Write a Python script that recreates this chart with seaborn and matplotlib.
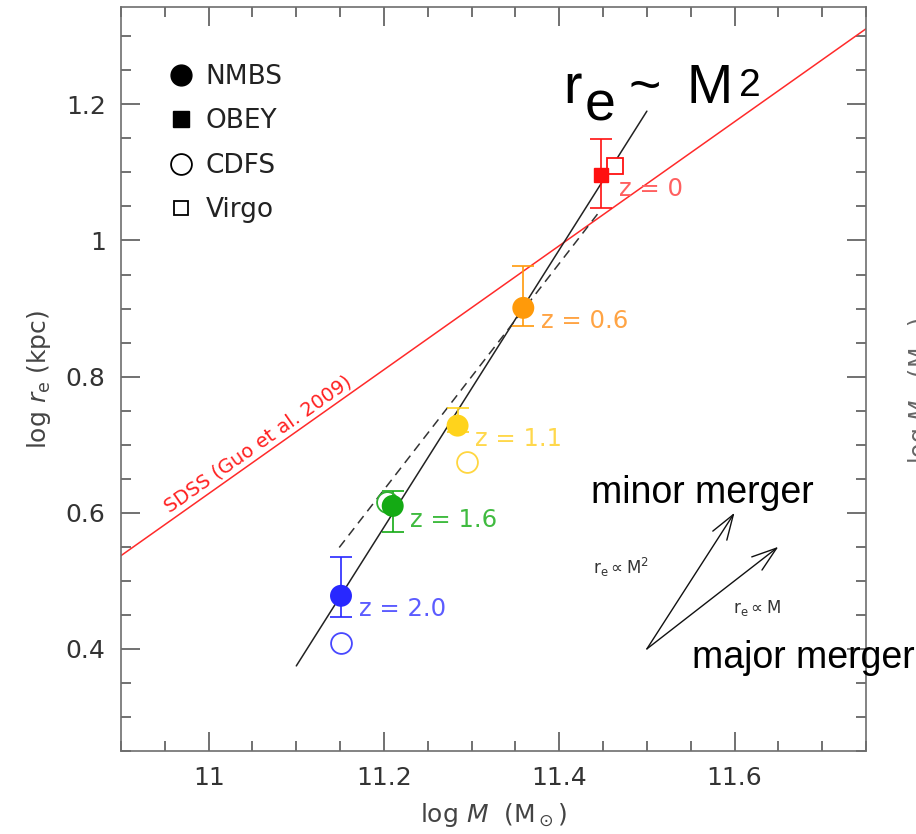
import matplotlib
matplotlib.use("Agg")
import matplotlib.pyplot as plt
from matplotlib.lines import Line2D
from matplotlib.ticker import MultipleLocator, FuncFormatter
import pandas as pd
import seaborn as sns

# ---- NMBS stacked massive galaxies (filled circles), one per redshift bin
z_labels = ["z = 2.0", "z = 1.6", "z = 1.1", "z = 0.6"]
nmbs_mass = [11.151, 11.210, 11.284, 11.359]
nmbs_re = [0.478, 0.610, 0.728, 0.901]
nmbs_re_hi = [0.535, 0.632, 0.754, 0.962]
nmbs_re_lo = [0.447, 0.572, 0.718, 0.875]
nmbs_colors = ["#2828ff", "#14aa14", "#ffd31c", "#ff9a0a"]
label_colors = ["#5c5cff", "#40bb40", "#ffd84c", "#ffa444"]

# ---- OBEY local point (filled square)
obey_label = "z = 0"
obey_mass = [11.448]
obey_re = [1.096]
obey_re_hi = [1.149]
obey_re_lo = [1.047]
obey_color = "#ff1010"
obey_label_color = "#ff6060"

# ---- CDFS (open circles) and Virgo (open square)
cdfs_mass = [11.151, 11.203, 11.295]
cdfs_re = [0.409, 0.616, 0.674]
cdfs_colors = ["#4848ff", "#30b030", "#ffd640"]
virgo_mass = [11.464]
virgo_re = [1.110]

# ---- Relations
m2_mass = [11.10, 11.50]          # r_e ~ M^2 track
m2_re = [0.375, 1.190]
fit_mass = [11.149, 11.445]       # dashed evolution fit
fit_re = [0.549, 1.041]
sdss_mass = [10.90, 11.75]        # SDSS local relation (Guo et al. 2009)
sdss_re = [0.537, 1.311]

# ---- Merger vectors
vec_origin = (11.50, 0.40)
minor_tip = (11.60, 0.60)
major_tip = (11.65, 0.55)

legend_labels = ["NMBS", "OBEY", "CDFS", "Virgo"]

sns.set_style("ticks")
plt.rcParams["font.family"] = ["DejaVu Sans"]
plt.rcParams["mathtext.fontset"] = "dejavusans"

fig = plt.figure(figsize=(9.16, 8.34), dpi=100)
ax = fig.add_axes([121 / 916, 83 / 834, 745 / 916, 744 / 834])

grey = "#4a4a4a"

# relations
sns.lineplot(x=sdss_mass, y=sdss_re, color="#ff2a2a", lw=1.1, ax=ax)
sns.lineplot(x=m2_mass, y=m2_re, color="#222222", lw=1.1, ax=ax)
sns.lineplot(x=fit_mass, y=fit_re, color="#333333", lw=1.1, ax=ax,
             linestyle=(0, (6, 4)))

# error bars
for x, y, lo, hi, c in zip(nmbs_mass, nmbs_re, nmbs_re_lo, nmbs_re_hi, nmbs_colors):
    ax.errorbar([x], [y], yerr=[[y - lo], [hi - y]], fmt="none", ecolor=c,
                elinewidth=1.2, capsize=8, capthick=1.2, zorder=3)
ax.errorbar(obey_mass, obey_re,
            yerr=[[obey_re[0] - obey_re_lo[0]], [obey_re_hi[0] - obey_re[0]]],
            fmt="none", ecolor=obey_color, elinewidth=1.2, capsize=8,
            capthick=1.2, zorder=3)

# open symbols
for x, y, c in zip(cdfs_mass, cdfs_re, cdfs_colors):
    ax.plot([x], [y], marker="o", ms=15, mfc="none", mec=c, mew=1.3, zorder=4)
ax.plot(virgo_mass, virgo_re, marker="s", ms=11, mfc="white", mec=obey_color,
        mew=1.3, ls="none", zorder=4)

# filled symbols
df = pd.DataFrame({"mass": nmbs_mass, "re": nmbs_re, "z": z_labels})
sns.scatterplot(data=df, x="mass", y="re", hue="z", palette=nmbs_colors,
                s=250, edgecolor="none", legend=False, ax=ax, zorder=5)
ax.plot(obey_mass, obey_re, marker="s", ms=10.5, color=obey_color,
        ls="none", zorder=5)

# redshift labels
for x, y, t, c in zip(nmbs_mass + obey_mass, nmbs_re + obey_re,
                      z_labels + [obey_label], label_colors + [obey_label_color]):
    ax.text(x + 0.02, y - 0.02, t, color=c, fontsize=17.5, ha="left",
            va="center")

ax.text(11.056, 0.700, "SDSS (Guo et al. 2009)", color="#ff2020",
        fontsize=14, rotation=35, ha="center", va="center")

# merger vectors
for tip in (minor_tip, major_tip):
    ax.annotate("", xy=tip, xytext=vec_origin,
                arrowprops=dict(arrowstyle="->,head_length=0.9,head_width=0.3",
                                color="#111111", lw=1.0, mutation_scale=20,
                                shrinkA=0, shrinkB=0))
ax.text(11.439, 0.519, r"$\mathregular{r_e \propto M^2}$", fontsize=12,
        color="#333333", ha="left", va="center")
ax.text(11.598, 0.460, r"$\mathregular{r_e \propto M}$", fontsize=12,
        color="#333333", ha="left", va="center")

arial = "Liberation Sans"
ax.text(11.436, 0.615, "minor merger", fontsize=27, family=arial,
        color="black", ha="left", va="baseline")
ax.text(11.551, 0.372, "major merger", fontsize=27, family=arial,
        color="black", ha="left", va="baseline")
big = dict(family=arial, color="black", ha="left", va="baseline")
ax.text(11.405, 1.2015, "r", fontsize=40, **big)
ax.text(11.429, 1.176, "e", fontsize=40, **big)
ax.text(11.479, 1.2015, "~", fontsize=40, **big)
ax.text(11.545, 1.2015, "M", fontsize=40, **big)
ax.text(11.605, 1.212, "2", fontsize=28, **big)

# legend
handles = [
    Line2D([], [], marker="o", ls="none", ms=15, color="black"),
    Line2D([], [], marker="s", ms=11, ls="none", color="black"),
    Line2D([], [], marker="o", ls="none", ms=15, mfc="none", mec="black", mew=1.3),
    Line2D([], [], marker="s", ls="none", ms=10.5, mfc="none", mec="black", mew=1.3),
]
leg = ax.legend(handles, legend_labels, loc="upper left",
                bbox_to_anchor=(0.063, 0.9236), frameon=False, fontsize=19,
                handlelength=1.0, handletextpad=0.42, labelspacing=0.70,
                borderpad=0, borderaxespad=0)
for t in leg.get_texts():
    t.set_color("#222222")

# axes
ax.set_xlim(10.90, 11.75)
ax.set_ylim(0.25, 1.343)
ax.xaxis.set_major_locator(MultipleLocator(0.2))
ax.xaxis.set_minor_locator(MultipleLocator(0.05))
ax.yaxis.set_major_locator(MultipleLocator(0.2))
ax.yaxis.set_minor_locator(MultipleLocator(0.05))
fmt = FuncFormatter(lambda v, p: f"{v:g}")
ax.xaxis.set_major_formatter(fmt)
ax.yaxis.set_major_formatter(fmt)
ax.tick_params(which="both", direction="in", top=True, right=True,
               color=grey, labelcolor="#333333", labelsize=18)
ax.tick_params(which="major", length=14, width=1.1, pad=11)
ax.tick_params(which="minor", length=7.5, width=1.1)
for s in ax.spines.values():
    s.set_color("#6e6e6e")
    s.set_linewidth(1.2)

ax.set_xlabel(r"log $M$  (M$_\odot$)", fontsize=18, color="#444444", labelpad=8)
ax.set_ylabel(r"log $r_{\rm e}$ (kpc)", fontsize=18, color="#444444", labelpad=9)

# neighbouring panel's axis title, cut by the figure edge
fig.text(906 / 916, 0.532, r"log $M_*$ (M$_\odot$)", rotation=90, fontsize=17,
         color="#666666", ha="left", va="center")

fig.savefig("out.png", dpi=100)
